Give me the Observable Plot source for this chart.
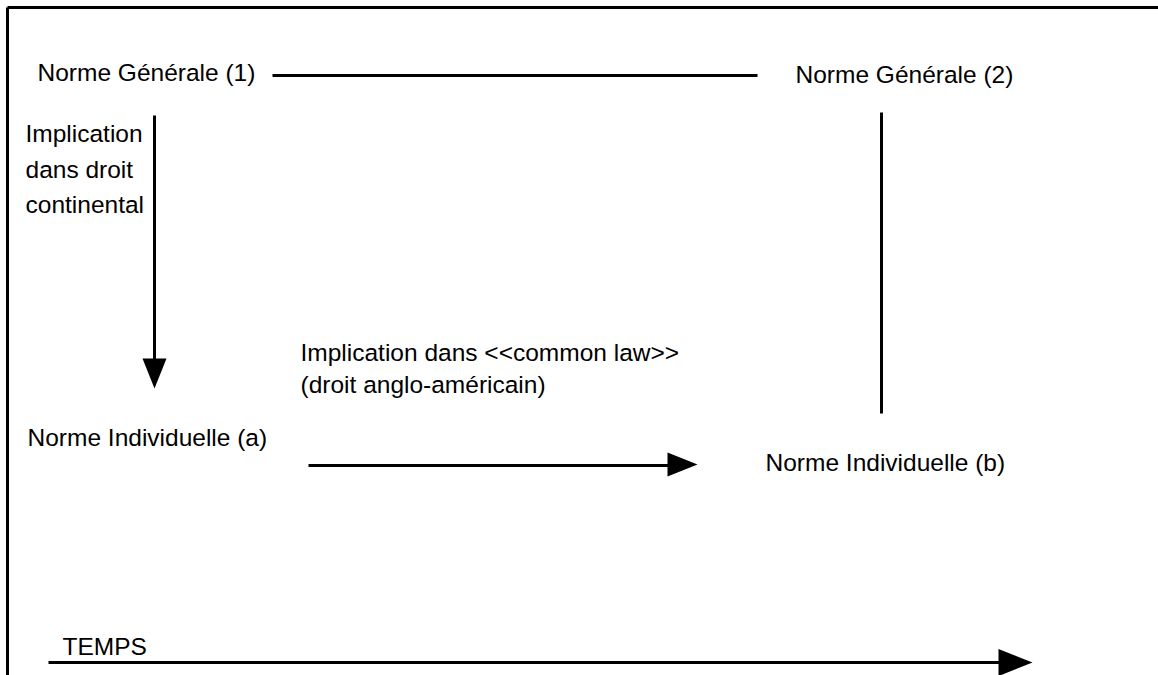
<!DOCTYPE html>
<html>
<head>
<meta charset="utf-8">
<script src="https://cdn.jsdelivr.net/npm/d3@7"></script>
<script src="https://cdn.jsdelivr.net/npm/@observablehq/plot@0.6"></script>
<style>
  html, body { margin: 0; padding: 0; background: #fff; }
</style>
</head>
<body>
<div id="chart"></div>
<script>
// ---- Diagram data (coordinates in a 1158 x 675 drawing space) ----
const nodeLabels = ["Norme Générale (1)", "Norme Générale (2)", "Norme Individuelle (a)", "Norme Individuelle (b)"];
const nodeX = [37, 795, 27, 765];
const nodeY = [73, 75, 438, 463];

const noteLabels = ["Implication\ndans droit\ncontinental", "Implication dans <<common law>>\n(droit anglo-américain)", "TEMPS"];
const noteX = [25, 300, 62];
const noteY = [166, 366, 647];
const noteLineHeight = [1.45, 1.33, 1];

// line segments: [x1, y1, x2, y2]
const segX1 = [272, 154, 881, 308, 48, 7, 7];
const segY1 = [75, 115, 112, 465, 662, 7, 7];
const segX2 = [757, 154, 881, 675, 1005, 1158, 7];
const segY2 = [75, 365, 413, 465, 662, 7, 675];

// arrowheads: centre and direction (degrees, 0 = pointing right)
const headX = [154, 682, 1015];
const headY = [373, 464, 662];
const headAngle = [90, 0, 0];
const headHalfLength = [15, 15, 17];

const segments = segX1.map((x1, i) => ({x1, y1: segY1[i], x2: segX2[i], y2: segY2[i]}));
const nodes = nodeLabels.map((t, i) => ({t, x: nodeX[i], y: nodeY[i]}));

const arrowHead = {
  draw(context, size) {
    const r = Math.sqrt(size / Math.PI);
    const w = r * 0.8;
    context.moveTo(r, 0);
    context.lineTo(-r, -w);
    context.lineTo(-r, w);
    context.closePath();
  }
};

const font = "'Liberation Sans', Arial, Helvetica, sans-serif";
const fs = 24.5;

const headMarks = headX.map((x, i) => Plot.dot([{x, y: headY[i]}], {
  x: "x", y: "y", r: headHalfLength[i], rotate: headAngle[i], symbol: arrowHead, fill: "#000", stroke: "none"
}));

const notes = noteLabels.map((t, i) => Plot.text([{t, x: noteX[i], y: noteY[i]}], {
  x: "x", y: "y", text: "t", textAnchor: "start", lineAnchor: "middle",
  lineHeight: noteLineHeight[i], fontSize: fs, fill: "#000"
}));

const chart = Plot.plot({
  width: 1158,
  height: 675,
  margin: 0,
  x: {domain: [0, 1158], range: [0, 1158], axis: null},
  y: {domain: [0, 675], range: [0, 675], axis: null},
  style: {background: "#fff", fontFamily: font, color: "#000"},
  marks: [
    Plot.link(segments, {x1: "x1", y1: "y1", x2: "x2", y2: "y2", stroke: "#000", strokeWidth: 3}),
    ...headMarks,
    Plot.text(nodes, {x: "x", y: "y", text: "t", textAnchor: "start", lineAnchor: "middle", fontSize: fs, fill: "#000"}),
    ...notes
  ]
});
document.getElementById("chart").appendChild(chart);
</script>
</body>
</html>
